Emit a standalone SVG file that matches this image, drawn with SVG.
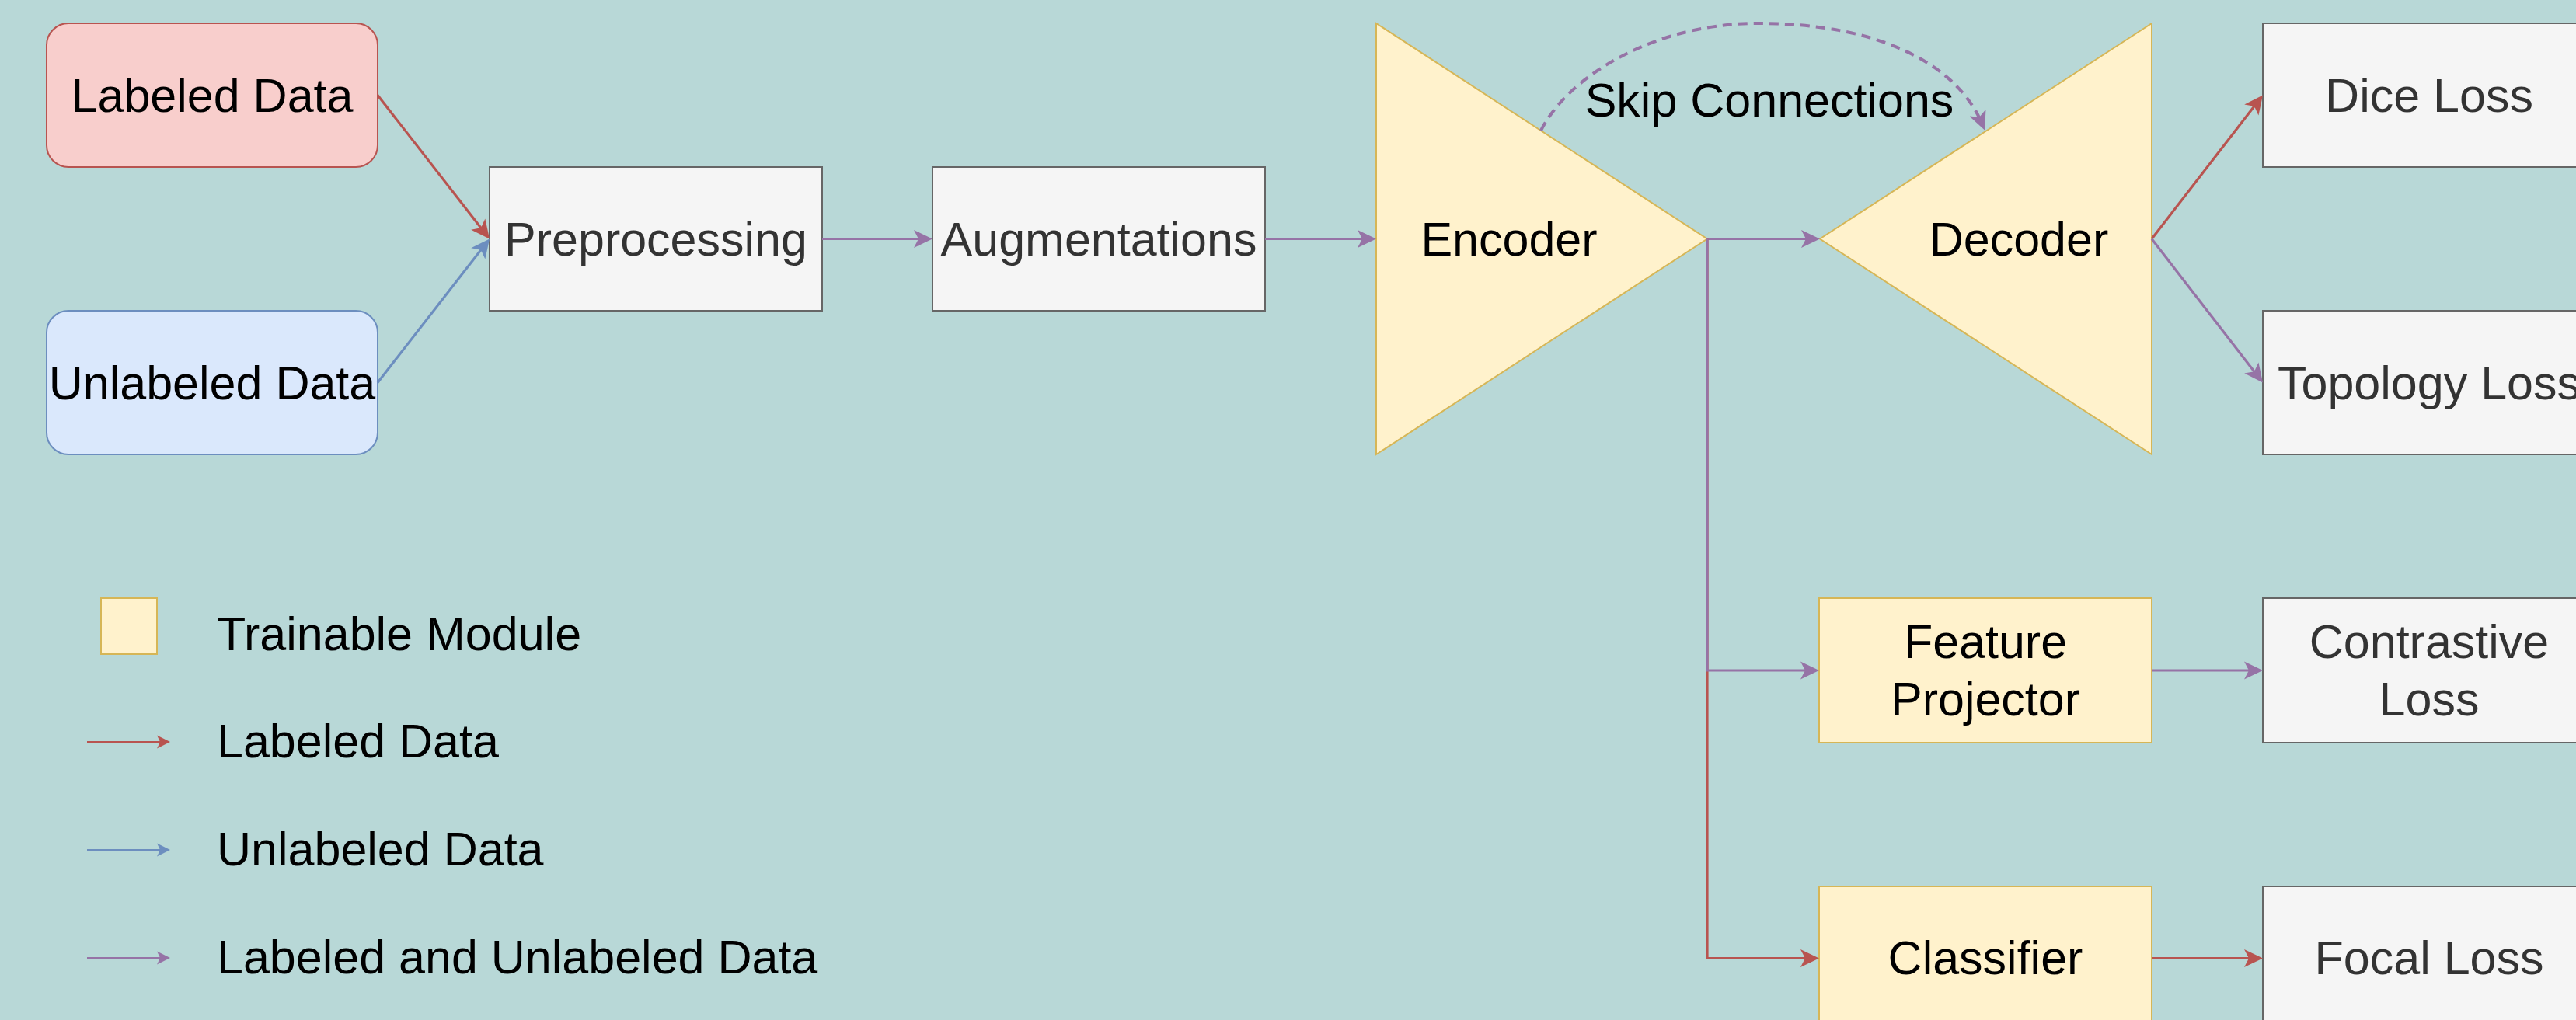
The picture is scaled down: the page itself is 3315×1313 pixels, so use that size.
<svg xmlns="http://www.w3.org/2000/svg" width="3315" height="1313" viewBox="0 0 3315 1313">
  <defs>
    <style>
      .t{font-family:"Liberation Sans",Arial,Helvetica,sans-serif;font-size:61px;text-anchor:middle;fill:#000000}
      .tg{fill:#333333}
      .tl{text-anchor:start}
      .grey{fill:#f5f5f5;stroke:#666666;stroke-width:2}
      .yel{fill:#fff2cc;stroke:#d6b656;stroke-width:2}
      .pink{fill:#f8cecc;stroke:#b85450;stroke-width:2}
      .sky{fill:#dae8fc;stroke:#6c8ebf;stroke-width:2}
      .e{fill:none;stroke-width:3.2}
      .leg{fill:none;stroke-width:2}
      .red{stroke:#b85450}
      .blue{stroke:#6c8ebf}
      .pur{stroke:#9673a6}
      .dash{stroke-width:4;stroke-dasharray:12 8}
    </style>
    <!-- classic arrowheads; the path end sits 8px behind the tip -->
    <marker id="ah-red" markerUnits="userSpaceOnUse" markerWidth="26" markerHeight="26" viewBox="0 -13 26 26" refX="16" refY="0" orient="auto">
      <path d="M24,0 L0,-11.5 L6,0 L0,11.5 Z" fill="#b85450"/>
    </marker>
    <marker id="ah-blue" markerUnits="userSpaceOnUse" markerWidth="26" markerHeight="26" viewBox="0 -13 26 26" refX="16" refY="0" orient="auto">
      <path d="M24,0 L0,-11.5 L6,0 L0,11.5 Z" fill="#6c8ebf"/>
    </marker>
    <marker id="ah-pur" markerUnits="userSpaceOnUse" markerWidth="26" markerHeight="26" viewBox="0 -13 26 26" refX="16" refY="0" orient="auto">
      <path d="M24,0 L0,-11.5 L6,0 L0,11.5 Z" fill="#9673a6"/>
    </marker>
    <!-- smaller heads for the legend samples -->
    <marker id="lh-red" markerUnits="userSpaceOnUse" markerWidth="18" markerHeight="18" viewBox="0 -9 18 18" refX="11" refY="0" orient="auto">
      <path d="M17,0 L0,-8.5 L4,0 L0,8.5 Z" fill="#b85450"/>
    </marker>
    <marker id="lh-blue" markerUnits="userSpaceOnUse" markerWidth="18" markerHeight="18" viewBox="0 -9 18 18" refX="11" refY="0" orient="auto">
      <path d="M17,0 L0,-8.5 L4,0 L0,8.5 Z" fill="#6c8ebf"/>
    </marker>
    <marker id="lh-pur" markerUnits="userSpaceOnUse" markerWidth="18" markerHeight="18" viewBox="0 -9 18 18" refX="11" refY="0" orient="auto">
      <path d="M17,0 L0,-8.5 L4,0 L0,8.5 Z" fill="#9673a6"/>
    </marker>
  </defs>

  <rect x="0" y="0" width="3315" height="1313" fill="#b8d8d7"/>

  <!-- data sources -->
  <g id="labeled-data">
    <rect class="pink" x="60" y="30" width="426" height="185" rx="28" ry="28"/>
    <text class="t" x="273" y="143.5">Labeled Data</text>
  </g>
  <g id="unlabeled-data">
    <rect class="sky" x="60" y="400" width="426" height="185" rx="28" ry="28"/>
    <text class="t" x="273" y="513.5">Unlabeled Data</text>
  </g>

  <!-- pipeline -->
  <g id="preprocessing">
    <rect class="grey" x="630" y="215" width="428" height="185"/>
    <text class="t tg" x="844" y="328.5">Preprocessing</text>
  </g>
  <g id="augmentations">
    <rect class="grey" x="1200" y="215" width="428" height="185"/>
    <text class="t tg" x="1414" y="328.5">Augmentations</text>
  </g>
  <g id="encoder">
    <polygon class="yel" points="1771,30 2197,307.5 1771,585"/>
    <text class="t" x="1942" y="328.5">Encoder</text>
  </g>
  <g id="decoder">
    <polygon class="yel" points="2769,30 2342,307.5 2769,585"/>
    <text class="t" x="2598" y="328.5">Decoder</text>
  </g>
  <g id="feature-projector">
    <rect class="yel" x="2341" y="770" width="428" height="186"/>
    <text class="t" x="2555" y="847">Feature</text>
    <text class="t" x="2555" y="921">Projector</text>
  </g>
  <g id="classifier">
    <rect class="yel" x="2341" y="1141" width="428" height="186"/>
    <text class="t" x="2555" y="1254">Classifier</text>
  </g>

  <!-- losses -->
  <g id="dice-loss">
    <rect class="grey" x="2912" y="30" width="428" height="185"/>
    <text class="t tg" x="3126" y="143.5">Dice Loss</text>
  </g>
  <g id="topology-loss">
    <rect class="grey" x="2912" y="400" width="428" height="185"/>
    <text class="t tg" x="3126" y="513.5">Topology Loss</text>
  </g>
  <g id="contrastive-loss">
    <rect class="grey" x="2912" y="770" width="428" height="186"/>
    <text class="t tg" x="3126" y="847">Contrastive</text>
    <text class="t tg" x="3126" y="921">Loss</text>
  </g>
  <g id="focal-loss">
    <rect class="grey" x="2912" y="1141" width="428" height="186"/>
    <text class="t tg" x="3126" y="1254">Focal Loss</text>
  </g>

  <!-- connectors -->
  <g id="connectors">
    <path class="e red" d="M486,122.5 L625.1,301.2" marker-end="url(#ah-red)"/>
    <path class="e blue" d="M486,492.5 L625.1,313.8" marker-end="url(#ah-blue)"/>
    <path class="e pur" d="M1058,307.5 H1192" marker-end="url(#ah-pur)"/>
    <path class="e pur" d="M1628,307.5 H1763" marker-end="url(#ah-pur)"/>
    <path class="e pur" d="M2197,307.5 H2334" marker-end="url(#ah-pur)"/>
    <path class="e red" d="M2769,307.5 L2907.1,128.8" marker-end="url(#ah-red)"/>
    <path class="e pur" d="M2769,307.5 L2907.1,486.2" marker-end="url(#ah-pur)"/>
    <path class="e red" d="M2197,307.5 V1233.5 H2333" marker-end="url(#ah-red)"/>
    <path class="e pur" d="M2197,307.5 V863 H2333" marker-end="url(#ah-pur)"/>
    <path class="e pur" d="M2769,863 H2904" marker-end="url(#ah-pur)"/>
    <path class="e red" d="M2769,1233.5 H2904" marker-end="url(#ah-red)"/>
    <path class="e pur dash" d="M1983,168 C2018,98 2130,30 2262,30 C2430,30 2522,90 2551,160" marker-end="url(#ah-pur)"/>
    <text class="t" x="2277" y="150">Skip Connections</text>
  </g>

  <!-- legend -->
  <g id="legend">
    <rect class="yel" x="130" y="770" width="72" height="72"/>
    <text class="t tl" x="279" y="837">Trainable Module</text>
    <path class="leg red" d="M112,955 H213" marker-end="url(#lh-red)"/>
    <text class="t tl" x="279" y="975">Labeled Data</text>
    <path class="leg blue" d="M112,1094 H213" marker-end="url(#lh-blue)"/>
    <text class="t tl" x="279" y="1114">Unlabeled Data</text>
    <path class="leg pur" d="M112,1233 H213" marker-end="url(#lh-pur)"/>
    <text class="t tl" x="279" y="1253">Labeled and Unlabeled Data</text>
  </g>
</svg>
